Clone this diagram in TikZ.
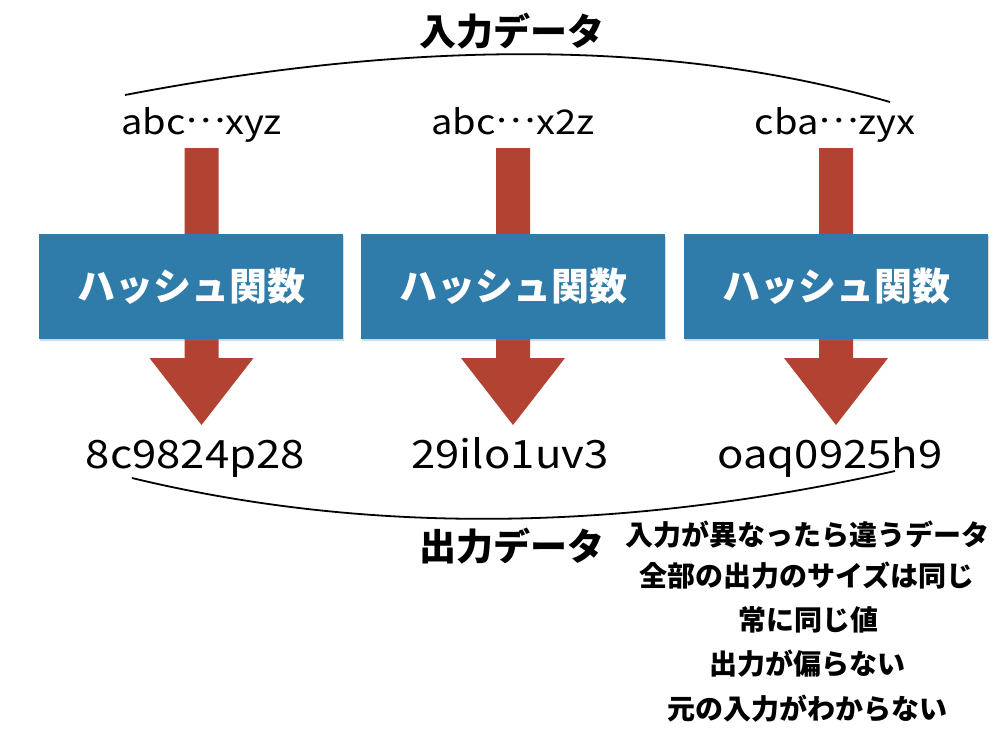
\documentclass[tikz,border=0pt]{standalone}
\usepackage{fontspec}
\setmainfont{Noto Sans CJK JP}
\newfontfamily\datafont{Noto Sans CJK JP}[FakeStretch=1.12]
\newcommand{\middots}{\raisebox{0.35em}{…}}
\usetikzlibrary{shadows}
\definecolor{boxblue}{RGB}{47,124,170}
\definecolor{arrowred}{RGB}{178,66,50}
\tikzset{
  hashbox/.style={fill=boxblue, minimum width=304pt, minimum height=105pt, inner sep=0pt,
    text=white, font=\fontsize{38}{40}\selectfont\bfseries,
    drop shadow={shadow xshift=0.5pt,shadow yshift=-2pt,opacity=0.3}},
  indata/.style={anchor=base, inner sep=0pt, font=\datafont\fontsize{34}{40}\selectfont},
  outdata/.style={anchor=base, inner sep=0pt, font=\datafont\fontsize{39}{42}\selectfont},
  heading/.style={inner sep=0pt, font=\fontsize{37}{40}\selectfont\bfseries},
  prop/.style={inner sep=0pt, font=\fontsize{28}{30}\selectfont\bfseries},
  brace/.style={line width=1.8pt, black},
  hasharrow/.pic={\fill[arrowred] (-17,0) -- (17,0) -- (17,210) -- (52,210) -- (0,277) -- (-52,210) -- (-17,210) -- cycle;}
}
\begin{document}
\begin{tikzpicture}[x=1pt,y=-1pt]
\useasboundingbox (0,0) rectangle (1000,734);
% arrows (behind boxes)
\pic at (201.5,148) {hasharrow};
\pic at (513,148) {hasharrow};
\pic at (836,148) {hasharrow};
% boxes
\node[hashbox] (h1) at (191,286.5) {ハッシュ関数};
\node[hashbox] (h2) at (513,286.5) {ハッシュ関数};
\node[hashbox] (h3) at (836,286.5) {ハッシュ関数};
% input data
\node[heading] (inlabel) at (512,31) {入力データ};
\node[indata] (in1) at (201.5,134) {abc\middots xyz};
\node[indata] (in2) at (513,134) {abc\middots x2z};
\node[indata] (in3) at (835,134) {cba\middots zyx};
\coordinate (tl) at (125,95);
\coordinate (tr) at (890,102);
\draw[brace] (tl) .. controls (423,38) and (678,41) .. (tr);
% output data
\node[outdata] (out1) at (195.5,468) {8c9824p28};
\node[outdata] (out2) at (510,468) {29ilo1uv3};
\node[outdata] (out3) at (830,468) {oaq0925h9};
\coordinate (bl) at (132,478);
\coordinate (br) at (895,471);
\draw[brace] (bl) .. controls (368,535) and (622,532) .. (br);
\node[heading] (outlabel) at (512,546) {出力データ};
% properties
\node[prop] (p1) at (807,535) {入力が異なったら違うデータ};
\node[prop] (p2) at (807,576) {全部の出力のサイズは同じ};
\node[prop] (p3) at (808,620) {常に同じ値};
\node[prop] (p4) at (807,664) {出力が偏らない};
\node[prop] (p5) at (807,709) {元の入力がわからない};
\end{tikzpicture}
\end{document}
